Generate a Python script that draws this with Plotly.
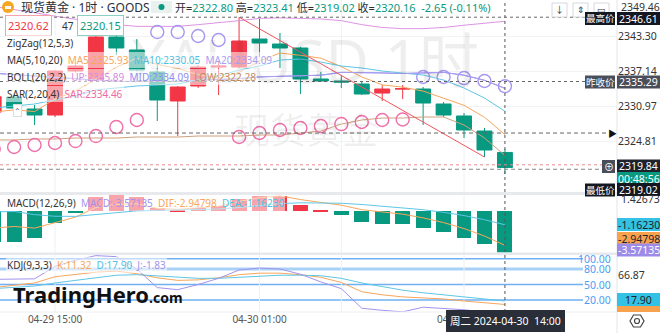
import plotly.graph_objects as go

W, H = 660, 333
FONT = "Noto Sans, Noto Sans CJK SC, sans-serif"
UP_C = "#F23645"
DN_C = "#089981"

# ---- hourly bars, 04-29 12:00 .. 04-30 14:00 ----
times = ["04-29 12:00", "04-29 13:00", "04-29 14:00", "04-29 15:00", "04-29 16:00",
         "04-29 17:00", "04-29 18:00", "04-29 19:00", "04-29 20:00", "04-29 21:00",
         "04-29 22:00", "04-29 23:00", "04-30 00:00", "04-30 01:00", "04-30 02:00",
         "04-30 03:00", "04-30 04:00", "04-30 05:00", "04-30 07:00", "04-30 08:00",
         "04-30 09:00", "04-30 10:00", "04-30 11:00", "04-30 12:00", "04-30 13:00",
         "04-30 14:00"]
open_ = [2329.90, 2332.56, 2330.45, 2329.39, 2337.14, 2335.55, 2343.12, 2340.84, 2336.96,
         2331.86, 2334.50, 2337.84, 2337.84, 2342.77, 2341.89, 2341.19, 2335.73, 2335.38,
         2334.85, 2333.26, 2333.97, 2333.97, 2331.33, 2329.22, 2326.57, 2322.80]
high = [2333.30, 2333.00, 2331.15, 2337.30, 2338.30, 2343.83, 2343.83, 2342.77, 2338.55,
        2334.50, 2338.19, 2338.72, 2346.61, 2346.30, 2343.83, 2341.40, 2336.96, 2336.43,
        2335.20, 2334.67, 2334.67, 2334.32, 2331.68, 2329.74, 2327.10, 2323.41]
low = [2328.50, 2330.30, 2327.63, 2329.04, 2336.90, 2335.40, 2339.95, 2337.10, 2328.34,
       2325.69, 2334.15, 2332.91, 2337.67, 2339.60, 2337.67, 2333.09, 2335.20, 2334.15,
       2332.91, 2331.86, 2332.21, 2327.63, 2329.04, 2325.34, 2322.00, 2319.02]
close = [2332.60, 2330.62, 2329.39, 2337.14, 2338.02, 2343.12, 2341.19, 2337.31, 2332.03,
         2334.32, 2337.84, 2338.00, 2342.42, 2342.07, 2341.19, 2335.73, 2335.38, 2335.20,
         2333.09, 2333.97, 2334.02, 2331.50, 2329.39, 2326.75, 2323.23, 2320.16]

ma5 = [2329.9, 2330.3, 2330.0, 2332.2, 2333.6, 2335.7, 2337.8, 2339.4, 2338.3, 2337.6,
       2336.5, 2335.9, 2336.9, 2338.9, 2340.3, 2339.9, 2339.4, 2337.9, 2336.1, 2334.7,
       2334.3, 2333.6, 2332.4, 2331.1, 2329.0, 2325.93]
ma10 = [2330.62, 2330.97, 2331.33, 2332.03, 2332.74, 2333.80, 2334.15, 2334.50, 2334.67,
        2334.85, 2335.55, 2336.26, 2337.31, 2338.02, 2339.07, 2339.25, 2338.72, 2338.02,
        2337.67, 2337.14, 2336.78, 2336.43, 2335.55, 2334.15, 2332.38, 2330.05]
boll_up = [2348.5, 2348.0, 2347.4, 2346.8, 2346.2, 2345.7, 2345.3, 2345.0, 2345.0, 2345.0,
           2345.3, 2345.6, 2346.0, 2346.4, 2346.5, 2346.4, 2346.3, 2346.0, 2345.3, 2344.8,
           2344.6, 2344.6, 2344.8, 2345.2, 2345.6, 2345.89]
boll_mid = [2336.75, 2336.5, 2336.3, 2336.0, 2335.8, 2335.5, 2335.3, 2335.3, 2335.3, 2335.3,
            2335.5, 2335.6, 2335.8, 2336.1, 2336.2, 2336.3, 2336.4, 2336.9, 2336.9, 2336.8,
            2336.7, 2336.8, 2336.9, 2336.4, 2335.5, 2334.09]
boll_low = [2325.0, 2325.0, 2325.17, 2325.17, 2325.34, 2325.34, 2325.34, 2325.52, 2325.52,
            2325.52, 2325.69, 2325.69, 2325.69, 2325.87, 2325.87, 2326.22, 2326.57, 2327.80,
            2328.51, 2328.86, 2328.86, 2329.04, 2329.04, 2327.63, 2325.34, 2322.28]
sar = [2323.40, 2323.76, 2324.11, 2324.46, 2324.81, 2325.69, 2327.28, 2328.51, 2344.00,
       2344.00, 2343.30, 2342.60, 2325.52, 2326.22, 2326.75, 2327.10, 2327.45, 2327.80,
       2328.16, 2328.51, 2328.60, 2336.08, 2336.08, 2335.90, 2335.38, 2334.46]
zigzag_idx = [12, 24]
zigzag_val = [2346.61, 2322.00]

macd_hist = [-2.70, -2.62, -2.32, -1.05, -0.12, 1.25, 1.42673, 1.22, 0.33, 0.13, 0.33, 0.47,
             1.05, 1.36, 1.34, 0.56, 0.05, -0.34, -0.90, -1.07, -1.13, -1.41, -1.79, -2.27,
             -2.85, -3.57135]
dif = [-1.45, -1.31, -1.45, -0.95, -0.50, 0.35, 0.61, 0.66, 0.26, 0.18, 0.32, 0.45, 0.87,
       1.19, 1.35, 1.03, 0.78, 0.54, 0.15, -0.07, -0.24, -0.56, -0.97, -1.49, -2.14, -2.94798]
dea = [-0.05, 0.00, -0.28, -0.42, -0.43, -0.28, -0.10, 0.05, 0.09, 0.11, 0.15, 0.21, 0.34,
       0.51, 0.68, 0.75, 0.76, 0.71, 0.60, 0.47, 0.33, 0.15, -0.08, -0.36, -0.72, -1.1623]

kdj_k = [44, 48, 53, 65, 69, 74, 76, 71, 63, 58, 59, 63, 69, 72, 72, 69, 64, 54, 36, 30,
         26, 24, 22, 18, 15, 11.32]
kdj_d = [42, 44, 47, 53, 58, 63, 68, 69, 67, 64, 62, 62, 64, 67, 68, 68, 67, 62, 53, 46,
         39, 34, 30, 26, 22, 17.90]
kdj_j = [60, 60, 61, 85, 97, 106, 104, 80, 44, 40, 50, 62, 78, 82, 80, 70, 55, 42, 4, 0,
         -3, 6, 4, 1, -3, -1.83]

price_ticks = [2343.30, 2337.14, 2330.97, 2324.81]
price_top_label = "2349.46"
time_tick_idx = [3, 13, 23]
kdj_levels = [100, 80, 50, 20]

x = list(range(len(times)))
XR = [0.31, 30.48]
XD = [0, 617 / W]


def px(v):
    return v / W


def py(v):
    return 1 - v / H


fig = go.Figure()

# ---- main price panel ----
for vals, col in [(boll_up, "#DD94E3"), (boll_low, "#CFA17C"), (boll_mid, "#8C8CF2"),
                  (ma5, "#F8A65B"), (ma10, "#5EC6E6")]:
    fig.add_trace(go.Scatter(x=x, y=vals, mode="lines", line=dict(color=col, width=1),
                             xaxis="x", yaxis="y", hoverinfo="skip"))
fig.add_trace(go.Scatter(x=x, y=boll_mid, mode="lines", line=dict(color="#A99DF0", width=1),
                         xaxis="x", yaxis="y", hoverinfo="skip"))
fig.add_trace(go.Scatter(x=zigzag_idx, y=zigzag_val, mode="lines",
                         line=dict(color="#F0545E", width=1), xaxis="x", yaxis="y"))
fig.add_trace(go.Candlestick(
    x=x, open=open_, high=high, low=low, close=close, xaxis="x", yaxis="y",
    increasing=dict(line=dict(color=UP_C, width=1), fillcolor=UP_C),
    decreasing=dict(line=dict(color=DN_C, width=1), fillcolor=DN_C),
    whiskerwidth=0, hoverinfo="skip"))
sar_cols = ["#A597F2" if s > c else "#F06EA9" for s, c in zip(sar, close)]
fig.add_trace(go.Scatter(x=x, y=sar, mode="markers", xaxis="x", yaxis="y",
                         marker=dict(symbol="circle-open", size=13, color=sar_cols,
                                     line=dict(width=1.4))))

# ---- MACD panel ----
fig.add_trace(go.Bar(x=x, y=macd_hist, width=0.73, xaxis="x2", yaxis="y2",
                     marker=dict(color=[UP_C if v >= 0 else DN_C for v in macd_hist],
                                 line=dict(width=0))))
fig.add_trace(go.Scatter(x=x, y=dif, mode="lines", line=dict(color="#F8A65B", width=1),
                         xaxis="x2", yaxis="y2"))
fig.add_trace(go.Scatter(x=x, y=dea, mode="lines", line=dict(color="#5EC6E6", width=1),
                         xaxis="x2", yaxis="y2"))

# ---- KDJ panel ----
for lv in kdj_levels:
    fig.add_shape(type="line", xref="paper", yref="y3", x0=0, x1=px(583), y0=lv, y1=lv,
                  line=dict(color="#A9D1F7" if lv == 80 else "#6FB0F4",
                            width=3 if lv == 80 else 1.4), layer="below")
    fig.add_annotation(xref="paper", yref="y3", x=px(613), y=lv, text=f"{lv:.2f}",
                       showarrow=False, xanchor="right", yanchor="middle",
                       font=dict(size=10.5, color="#4E9DF2", family=FONT))
for vals, col in [(kdj_k, "#F8A65B"), (kdj_d, "#5EC6E6"), (kdj_j, "#A393EE")]:
    fig.add_trace(go.Scatter(x=x, y=vals, mode="lines", line=dict(color=col, width=1),
                             xaxis="x3", yaxis="y3"))

ax_common = dict(range=XR, domain=XD, showgrid=False, zeroline=False, showline=False,
                 ticks="", fixedrange=True)
fig.update_layout(
    width=W, height=H, margin=dict(l=0, r=0, t=0, b=0),
    paper_bgcolor="white", plot_bgcolor="white", showlegend=False, hovermode=False,
    boxgap=0.27, boxgroupgap=0, bargap=0,
    font=dict(family=FONT, color="#333"),
    xaxis=dict(**ax_common, anchor="y", showticklabels=False, rangeslider=dict(visible=False)),
    xaxis2=dict(**ax_common, anchor="y2", showticklabels=False),
    xaxis3=dict(**ax_common, anchor="y3", tickvals=time_tick_idx,
                ticktext=[times[i] for i in time_tick_idx],
                tickfont=dict(size=10, color="#555")),
    yaxis=dict(domain=[py(193), 1], range=[2315.66, 2349.64], side="right", anchor="x",
               tickvals=price_ticks, ticktext=[f"{v:.2f}" for v in price_ticks],
               tickfont=dict(size=10.5, color="#333"), showgrid=True, gridcolor="#F2F3F5",
               zeroline=False, ticks="", fixedrange=True),
    yaxis2=dict(domain=[py(252.5), py(195)], range=[-3.57135, 1.42673], side="right",
                anchor="x2", showticklabels=False, showgrid=False, zeroline=False,
                ticks="", fixedrange=True),
    yaxis3=dict(domain=[py(312), py(255)], range=[-3.3, 107.2], side="right", anchor="x3",
                tickvals=[66.87], ticktext=["66.87"], tickfont=dict(size=10.5, color="#333"),
                showgrid=False, zeroline=False, ticks="", fixedrange=True),
)

# faint vertical grid and crosshair
for i in [3, 13, 17, 23]:
    fig.add_shape(type="line", xref="x", yref="paper", x0=i, x1=i, y0=py(312), y1=1,
                  line=dict(color="#EEF0F3", width=1), layer="below")
fig.add_shape(type="line", xref="x", yref="paper", x0=25, x1=25, y0=py(312), y1=1,
              line=dict(color="#555", width=1, dash="3px,3px"))

# horizontal reference lines in the price panel
for val, col, dash, x1 in [(2346.61, "#666", "dot", 585), (2335.29, "#666", "dot", 585),
                           (2326.22, "#666", "4px,3px", 606), (2320.62, "#F08A94", "dot", 617),
                           (2319.84, "#888", "4px,3px", 600)]:
    fig.add_shape(type="line", xref="paper", yref="y", x0=0, x1=px(x1), y0=val, y1=val,
                  line=dict(color=col, width=1, dash=dash))
fig.add_annotation(xref="paper", yref="y", x=px(612), y=2326.22, text="▶", showarrow=False,
                   font=dict(size=9, color="#111"), xanchor="center", yanchor="middle")

# panel separators and axis borders
for y0, y1 in [(192, 195), (252.5, 255)]:
    fig.add_shape(type="rect", xref="paper", yref="paper", x0=0, x1=1, y0=py(y1), y1=py(y0),
                  fillcolor="#E7E9ED", line=dict(width=0))
fig.add_shape(type="line", xref="paper", yref="paper", x0=px(617), x1=px(617), y0=0, y1=1,
              line=dict(color="#E3E5EA", width=1))
fig.add_shape(type="line", xref="paper", yref="paper", x0=0, x1=px(617), y0=py(312),
              y1=py(312), line=dict(color="#ECEEF1", width=1))


def text(xp, yp, s, size=10, color="#333", bg=None, xanchor="left", border=None, **kw):
    fig.add_annotation(xref="paper", yref="paper", x=px(xp), y=py(yp), text=s,
                       showarrow=False, xanchor=xanchor, yanchor="middle",
                       font=dict(size=size, color=color, family=FONT),
                       bgcolor=bg, bordercolor=border, borderwidth=1 if border else 0,
                       borderpad=kw.pop("pad", 1), **kw)


# watermark
text(305, 60, "XAUUSD 1时", size=60, color="rgba(0,0,0,0.065)", xanchor="center", pad=0)
text(306, 130, "现货黄金", size=36, color="rgba(0,0,0,0.065)", xanchor="center")

# top price label
text(621, 7, price_top_label, size=10.5, color="#333", pad=0)

# header
fig.add_shape(type="circle", xref="paper", yref="paper", x0=px(2), x1=px(14), y0=py(13),
              y1=py(1), fillcolor="#F5A623", line=dict(width=0))
fig.add_shape(type="rect", xref="paper", yref="paper", x0=px(5), x1=px(11), y0=py(9),
              y1=py(6), fillcolor="white", line=dict(width=0))
text(21, 7.5, "现货黄金 · 1时 · GOODS", size=12, color="#2A2E39", pad=0)
fig.add_shape(type="rect", xref="paper", yref="paper", x0=px(151), x1=px(172), y0=py(13),
              y1=py(1), fillcolor="#E9F1EF", line=dict(width=0))
fig.add_shape(type="circle", xref="paper", yref="paper", x0=px(158.5), x1=px(164.5),
              y0=py(10), y1=py(4), fillcolor=DN_C, line=dict(width=0))
G = DN_C
text(175, 7.5, f"开=<span style='color:{G}'>2322.80</span> 高=<span style='color:{G}'>2323.41</span>"
     f" 低=<span style='color:{G}'>2319.02</span> 收=<span style='color:{G}'>2320.16</span>"
     f"  <span style='color:{G}'>-2.65 (-0.11%)</span>", size=11, color="#2A2E39", pad=0)

# bid / ask boxes
text(5, 25.5, "2320.62", size=11, color=UP_C, bg="white", border="#F5A3A9", pad=2)
text(61, 25.5, "47", size=10, color="#333")
text(77, 25.5, "2320.15", size=11, color=DN_C, bg="white", border="#8CCFC3", pad=2)

# indicator legends (translucent backing lightens what lies beneath)
LBG = "rgba(255,255,255,0.55)"
text(6, 43, "ZigZag(12,5,3)", size=10, bg=LBG)
text(6, 60, "MA(5,10,20)  <span style='color:#F8A65B'>MA5:2325.93</span>  "
     "<span style='color:#4FC0E2'>MA10:2330.05</span>  <span style='color:#A99DF0'>MA20:2334.09</span>",
     size=10, bg=LBG)
text(6, 77, "BOLL(20,2,2)  <span style='color:#D98ADF'>UP:2345.89</span>  "
     "<span style='color:#8C8CF2'>MID:2334.09</span>  <span style='color:#C08A5C'>LOW:2322.28</span>",
     size=10, bg=LBG)
text(6, 94, "SAR(2,20,4)  <span style='color:#EE6AA5'>SAR:2334.46</span>", size=10, bg=LBG)
text(13, 110, "⌃", size=8, color="#555", bg="white", border="#DDD", pad=0)
text(6, 203, "MACD(12,26,9)  <span style='color:#A393EE'>MACD:-3.57135</span>  "
     "<span style='color:#F8A65B'>DIF:-2.94798</span>  <span style='color:#4FC0E2'>DEA:-1.16230</span>",
     size=10, bg=LBG)
text(6, 265, "KDJ(9,3,3)  <span style='color:#F8A65B'>K:11.32</span>  "
     "<span style='color:#4FC0E2'>D:17.90</span>  <span style='color:#A393EE'>J:-1.83</span>",
     size=10, bg=LBG)

# top-right tool buttons
for x0, g in [(552, "↓"), (573, "⇕"), (594, "▭")]:
    fig.add_shape(type="rect", xref="paper", yref="paper", x0=px(x0), x1=px(x0 + 15),
                  y0=py(17), y1=py(3), fillcolor="white", line=dict(color="#D5D8DD", width=1))
    text(x0 + 7.5, 10, g, size=9, color="#333", xanchor="center")

# MACD axis top value, partly under the low-price tag
text(620, 198.5, "1.42673", size=10.5, color="#333")


# price-axis value tags
def tag(x0, x1, yc, s, bg, fg="white", size=10.5):
    fig.add_shape(type="rect", xref="paper", yref="paper", x0=px(x0), x1=px(x1),
                  y0=py(yc + 6.5), y1=py(yc - 6.5), fillcolor=bg, line=dict(width=0))
    text((x0 + x1) / 2, yc, s, size=size, color=fg, xanchor="center")


tag(585, 615, 18.5, "最高价", "#131722", size=9.5)
tag(617, 660, 18.5, "2346.61", "#131722")
tag(585, 615, 82, "昨收价", "#4A4E59", size=9.5)
tag(617, 660, 82, "2335.29", "#4A4E59")
tag(602, 615, 166.5, "⊕", "#4A4E59", size=10)
tag(617, 660, 166, "2319.84", "#1E222D")
tag(617, 660, 178.5, "00:48:56", DN_C)
tag(585, 615, 190, "最低价", "#131722", size=9.5)
tag(617, 660, 189.5, "2319.02", "#131722")
tag(617, 660, 224.5, "-1.16230", "#33C2E3", fg="#1E222D")
tag(617, 660, 238.5, "-2.94798", "#F9A24E", fg="#1E222D")
tag(617, 660, 250, "-3.57135", "#9C8BE8")
tag(617, 660, 299.5, "17.90", "#33C2E3", fg="#1E222D")
fig.add_shape(type="rect", xref="paper", yref="paper", x0=px(617), x1=px(660), y0=py(312),
              y1=py(306), fillcolor="#F9A24E", line=dict(width=0))

# settings icon
fig.add_shape(type="path", xref="paper", yref="paper",
              path=f"M {px(630)} {py(321)} L {px(633.5)} {py(315)} L {px(640.5)} {py(315)} "
                   f"L {px(644)} {py(321)} L {px(640.5)} {py(327)} L {px(633.5)} {py(327)} Z",
              line=dict(color="#444", width=1.2))
fig.add_shape(type="circle", xref="paper", yref="paper", x0=px(634.5), x1=px(639.5),
              y0=py(323.5), y1=py(318.5), line=dict(color="#444", width=1.2))

# crosshair time tag
text(505, 321, "周二 2024-04-30  14:00", size=10.5, color="white", bg="#2A2E39",
     xanchor="center", pad=4)

# logo
text(12, 294, "<b>TradingHero</b><span style='font-size:14px'><b>.com</b></span>", size=22,
     color="#111")

fig.write_html("out.html")
